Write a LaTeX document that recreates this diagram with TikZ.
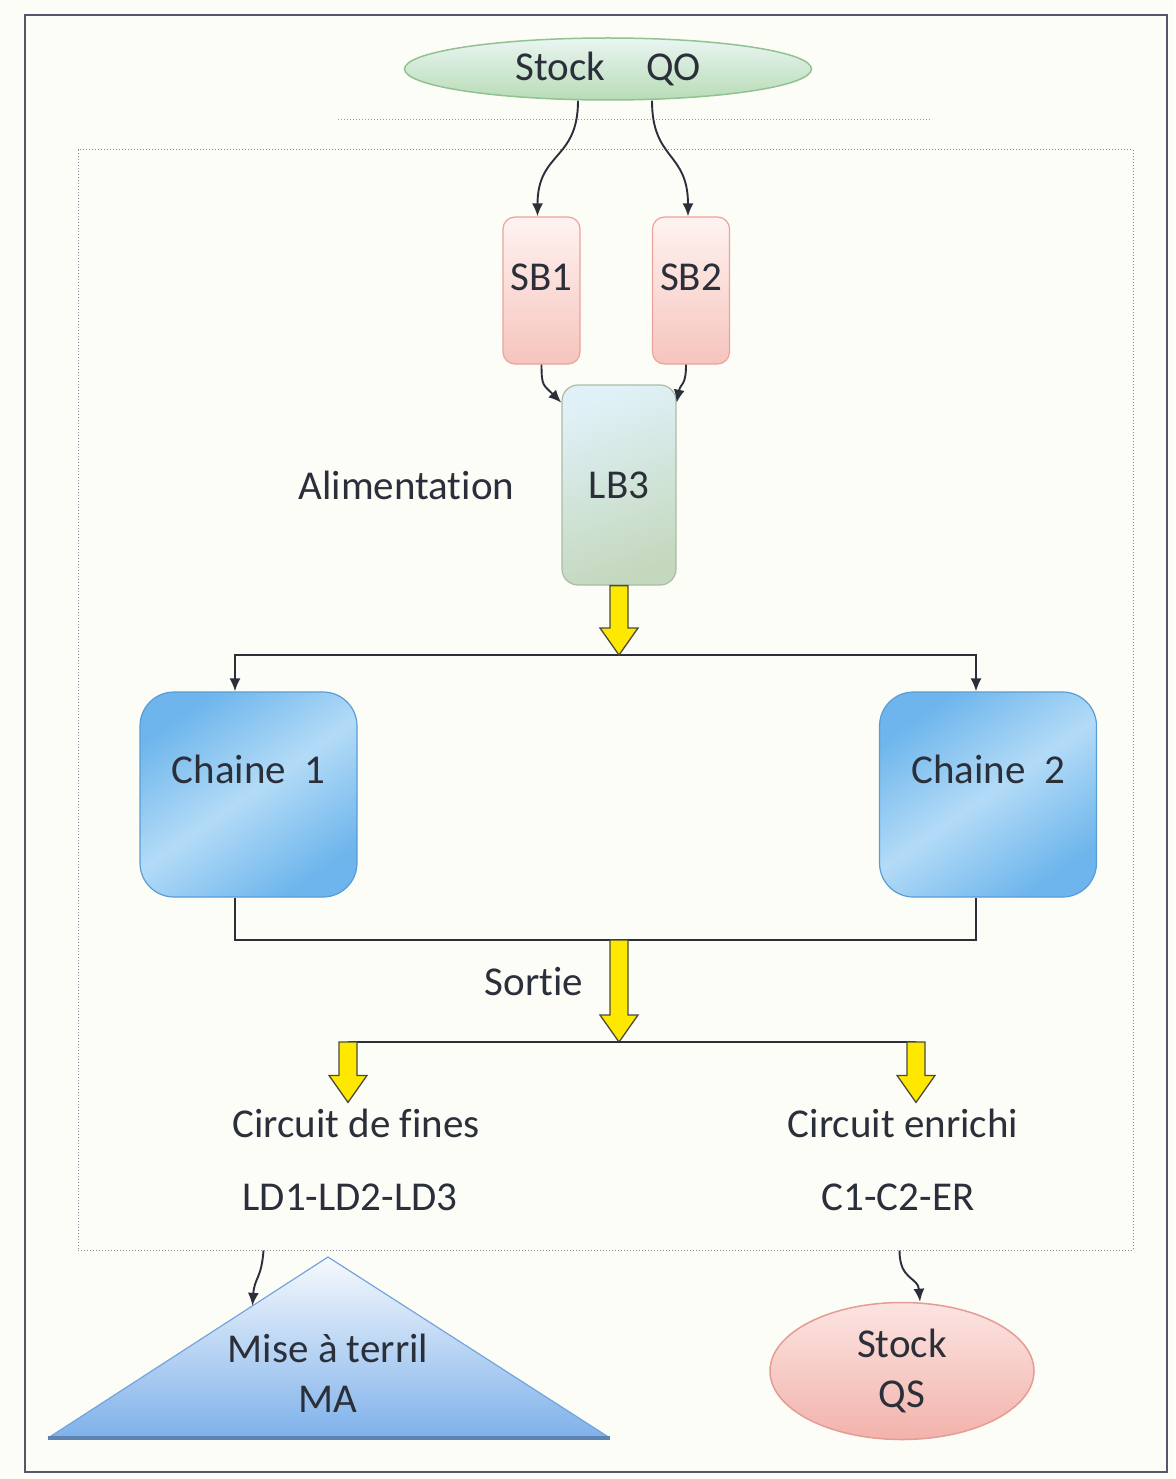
\documentclass[tikz,border=0pt]{standalone}
\usepackage{fontspec}
\setmainfont{Carlito}[Ligatures=NoCommon]
\usetikzlibrary{shapes.geometric, arrows.meta, positioning, calc}
\definecolor{paper}{HTML}{FDFDF7}
\definecolor{ink}{HTML}{2B2F3A}
\definecolor{framedraw}{HTML}{55566A}
\definecolor{qotop}{HTML}{E9F5F2}
\definecolor{qobot}{HTML}{B8DCB6}
\definecolor{qodraw}{HTML}{93C292}
\definecolor{sbtop}{HTML}{FEF3F1}
\definecolor{sbbot}{HTML}{F6C4BD}
\definecolor{sbdraw}{HTML}{EBA39B}
\definecolor{lbtop}{HTML}{DFF1F7}
\definecolor{lbbot}{HTML}{C4D8BE}
\definecolor{lbdraw}{HTML}{A9BDA6}
\definecolor{chdark}{HTML}{6DB5EC}
\definecolor{chlight}{HTML}{B3DBF7}
\definecolor{chdraw}{HTML}{5A9DD6}
\definecolor{tritop}{HTML}{F6F9FD}
\definecolor{tribot}{HTML}{7EB1EA}
\definecolor{tridraw}{HTML}{74A4DE}
\definecolor{qstop}{HTML}{FCE4E1}
\definecolor{qsbot}{HTML}{F2B3AC}
\definecolor{qsdraw}{HTML}{E49C94}
\definecolor{flowfill}{HTML}{FFE800}
\definecolor{flowdraw}{HTML}{4B4B3C}
\tikzset{
  txt/.style={font=\fontsize{41}{50}\selectfont, text=ink, align=center, inner sep=0pt},
  box/.style={rectangle, rounded corners=12pt, line width=1.2pt, txt},
  stockqo/.style={ellipse, minimum width=407pt, minimum height=62pt, top color=qotop, bottom color=qobot, draw=qodraw, line width=1.5pt, txt},
  sb/.style={box, minimum width=77pt, minimum height=147pt, top color=sbtop, bottom color=sbbot, draw=sbdraw, text depth=26pt},
  lb/.style={box, minimum width=114pt, minimum height=200pt, rounded corners=16pt, top color=lbtop, bottom color=lbbot, shading angle=20, draw=lbdraw},
  chaine/.style={box, minimum width=217pt, minimum height=205pt, rounded corners=34pt, top color=chdark, bottom color=chdark, middle color=chlight, shading angle=35, draw=chdraw, text depth=50pt},
  stockqs/.style={ellipse, minimum width=264pt, minimum height=137pt, top color=qstop, bottom color=qsbot, draw=qsdraw, line width=1.5pt, txt},
  arr/.style={-{Latex[length=13pt,width=11pt]}, line width=1.9pt, draw=ink},
  link/.style={line width=1.9pt, draw=ink},
  flow/.style={fill=flowfill, draw=flowdraw, line width=1.3pt, line join=miter},
}
\newcommand{\flowarrow}[2]{%
  \draw[flow] let \p1=(#1), \p2=(#2) in
    (\x1-9pt,\y1) -- (\x1-9pt,\y2+27pt) -- (\x1-19pt,\y2+27pt) -- (\x1,\y2)
    -- (\x1+19pt,\y2+27pt) -- (\x1+9pt,\y2+27pt) -- (\x1+9pt,\y1) -- cycle;}

\begin{document}
\begin{tikzpicture}[x=1pt, y=-1pt]
  % page
  \fill[paper] (0,0) rectangle (1175,1479);
  \useasboundingbox (0,0) rectangle (1175,1479);
  \draw[framedraw, line width=2pt] (25,15) rectangle (1167,1472);
  \draw[framedraw!60, line width=1pt, dotted] (338,120) -- (932,120);
  \node[draw=framedraw!70, dotted, line width=1pt, minimum width=1055pt, minimum height=1100pt, inner sep=0pt] (plant) at (605.5,700) {};

  % feed
  \node[stockqo] (qo) at (608,69) {Stock\quad QO};
  \node[sb] (sb1) at (541.5,290.5) {SB1};
  \node[sb] (sb2) at (691,290.5) {SB2};
  \node[lb] (lb3) at (619,485) {LB3};
  \node[txt, left=47pt of lb3] (alim) {Alimentation};

  % chains
  \node[chaine] (c1) at (248.5,794.5) {Chaine\ \ 1};
  \node[chaine] (c2) at (988,794.5) {Chaine\ \ 2};
  \coordinate (feed) at (619,655);
  \coordinate (merge) at (619,940);
  \coordinate (split) at (619,1042);
  \coordinate (fl) at (348,1042);
  \coordinate (fr) at (916,1042);

  % outputs
  \node[txt] (sortie) at (534,982) {Sortie};
  \node[txt] (fines) at (356,1123) {Circuit de fines};
  \node[txt] (fineslist) at (350,1197) {LD1-LD2-LD3};
  \node[txt] (enrichi) at (903,1123) {Circuit enrichi};
  \node[txt] (enrichilist) at (898,1197) {C1-C2-ER};

  % terril
  \coordinate (apex) at (328,1257);
  \coordinate (baseL) at (48,1438);
  \coordinate (baseR) at (610,1438);
  \shade[top color=tritop, bottom color=tribot] (apex) -- (baseR) -- (baseL) -- cycle;
  \draw[tridraw, line width=1.2pt] (baseL) -- (apex) -- (baseR);
  \draw[tridraw!80!black, line width=3.5pt] (baseL) -- (baseR);
  \node[txt] (ma) at (328,1373) {Mise à terril\\MA};
  \coordinate (maslope) at ($(apex)!0.27!(baseL)$);
  \node[stockqs] (qs) at (902,1371) {Stock\\QS};

  % connectors
  \draw[arr] ([xshift=-30pt]qo.south) .. controls +(0,60) and +(0,-65) .. ([xshift=-4pt]sb1.north);
  \draw[arr] ([xshift=44pt]qo.south) .. controls +(0,60) and +(0,-65) .. ([xshift=-3pt]sb2.north);
  \draw[arr] (sb1.south) .. controls +(0,22) and +(-18,-18) .. (lb3.125);
  \draw[arr] ([xshift=-5pt]sb2.south) .. controls +(0,22) and +(4,-20) .. (lb3.55);
  \draw[arr] (feed) -| ([xshift=-13.5pt]c1.north);
  \draw[arr] (feed) -| ([xshift=-12pt]c2.north);
  \flowarrow{lb3.south}{feed}
  \draw[link] ([xshift=-13.5pt]c1.south) |- (merge) -| ([xshift=-12pt]c2.south);
  \flowarrow{merge}{split}
  \draw[link] (fl) -- (fr);
  \flowarrow{fl}{[yshift=6pt]fines.north}
  \flowarrow{fr}{[yshift=6pt]enrichi.north}
  \draw[arr] ($(plant.south)+(-342,0)$) .. controls +(-2,28) and +(2,-28) .. (maslope);
  \draw[arr] ($(plant.south)+(294,0)$) .. controls +(0,30) and +(-2,-25) .. ([xshift=18pt]qs.north);
\end{tikzpicture}
\end{document}
